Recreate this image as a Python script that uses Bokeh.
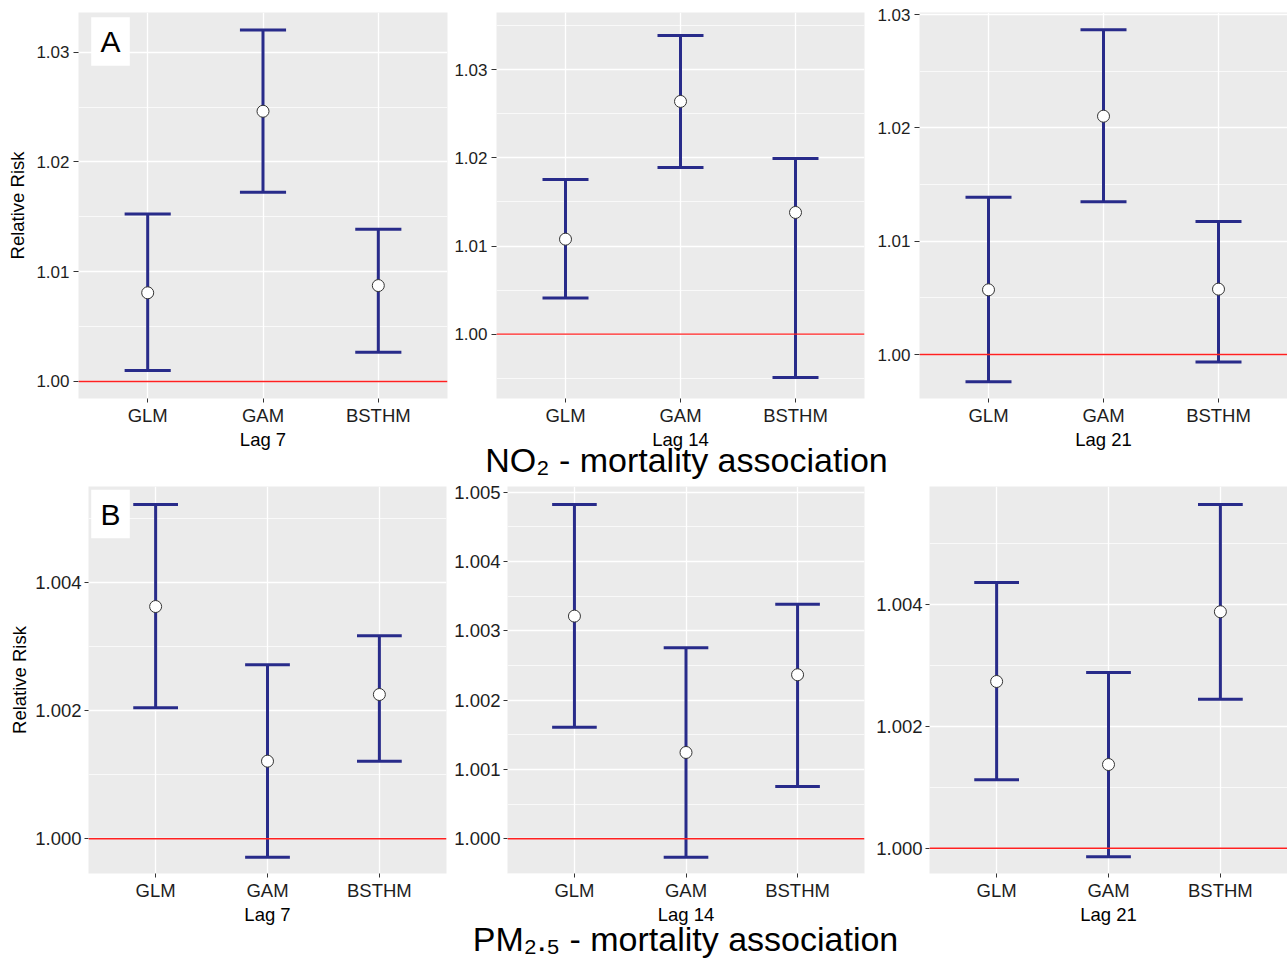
from bokeh.plotting import figure
from bokeh.layouts import column, row
from bokeh.models import Range1d, FixedTicker, PrintfTickFormatter, Span, ColumnDataSource
from bokeh.core.properties import value
from bokeh.embed import file_html
from bokeh.resources import INLINE

# ---------------- data ----------------
categories = ["GLM", "GAM", "BSTHM"]
lag_labels = ["Lag 7", "Lag 14", "Lag 21"]
panel_tags = ["A", "B"]
row_titles = ["NO\u2082 - mortality association", "PM\u2082.\u2085 - mortality association"]
reference_rr = 1.0

# NO2 - relative risk (estimate, lower, upper)
no2_lag7_est = [1.00808, 1.02462, 1.00874]
no2_lag7_lo = [1.00100, 1.01724, 1.00267]
no2_lag7_hi = [1.01527, 1.03203, 1.01387]

no2_lag14_est = [1.01078, 1.02641, 1.01381]
no2_lag14_lo = [1.00409, 1.01892, 0.99508]
no2_lag14_hi = [1.01756, 1.03390, 1.01994]

no2_lag21_est = [1.00571, 1.02103, 1.00577]
no2_lag21_lo = [0.99759, 1.01347, 0.99935]
no2_lag21_hi = [1.01388, 1.02866, 1.01174]

# PM2.5 - relative risk
pm_lag7_est = [1.003620, 1.001210, 1.002249]
pm_lag7_lo = [1.002041, 0.999713, 1.001210]
pm_lag7_hi = [1.005210, 1.002712, 1.003163]

pm_lag14_est = [1.003212, 1.001245, 1.002366]
pm_lag14_lo = [1.001610, 0.999734, 1.000755]
pm_lag14_hi = [1.004824, 1.002756, 1.003385]

pm_lag21_est = [1.002737, 1.001374, 1.003882]
pm_lag21_lo = [1.001123, 0.999859, 1.002447]
pm_lag21_hi = [1.004363, 1.002885, 1.005644]

# axis limits and ticks
no2_lag7_ylim = (0.99845, 1.03362)
no2_lag14_ylim = (0.99270, 1.03650)
no2_lag21_ylim = (0.99612, 1.03018)
pm_lag7_ylim = (0.999459, 1.005491)
pm_lag14_ylim = (0.999499, 1.005082)
pm_lag21_ylim = (0.999585, 1.005938)

no2_major_ticks = [1.00, 1.01, 1.02, 1.03]
no2_minor_ticks = [0.995, 1.005, 1.015, 1.025, 1.035]
pm_major_ticks_wide = [1.000, 1.002, 1.004]
pm_minor_ticks_wide = [0.999, 1.001, 1.003, 1.005]
pm_major_ticks_fine = [1.000, 1.001, 1.002, 1.003, 1.004, 1.005]
pm_minor_ticks_fine = [0.9995, 1.0005, 1.0015, 1.0025, 1.0035, 1.0045]

# ---------------- style ----------------
FONT = "Liberation Sans"
BLUE = "#282B8A"
PANEL_BG = "#EBEBEB"
TEXT = "#1E1E1E"
CAP = 0.2          # half width of error bar caps (x units)
XLIM = (0.4, 3.6)
PAGE_W = 1287


def make_panel(est, lo, hi, ylim, major, minor, fmt, g,
               tick_size, ylabel=None, ylabel_standoff=8, tag=None, tag_off=None):
    p = figure(frame_width=g["fw"], frame_height=g["fh"], title=None,
               min_border_left=g["l"], min_border_right=g["r"],
               min_border_top=g["t"], min_border_bottom=g["b"],
               x_range=Range1d(*XLIM), y_range=Range1d(*ylim),
               output_backend="svg", toolbar_location=None,
               background_fill_color=PANEL_BG, border_fill_color="white",
               outline_line_color=None)
    xs = list(range(1, len(categories) + 1))
    src = ColumnDataSource(dict(x=xs, est=est, lo=lo, hi=hi,
                                xl=[x - CAP for x in xs], xr=[x + CAP for x in xs]))

    # grids
    p.xgrid.ticker = FixedTicker(ticks=xs)
    p.xgrid.grid_line_color = "white"
    p.xgrid.grid_line_width = 1.3
    yt = FixedTicker(ticks=major, minor_ticks=minor)
    p.ygrid.ticker = yt
    p.ygrid.grid_line_color = "white"
    p.ygrid.grid_line_width = 1.3
    p.ygrid.minor_grid_line_color = "white"
    p.ygrid.minor_grid_line_width = 0.7

    # error bars
    p.segment(x0="x", y0="lo", x1="x", y1="hi", source=src, line_color=BLUE, line_width=3)
    p.segment(x0="xl", y0="hi", x1="xr", y1="hi", source=src, line_color=BLUE, line_width=3)
    p.segment(x0="xl", y0="lo", x1="xr", y1="lo", source=src, line_color=BLUE, line_width=3)
    p.add_layout(Span(location=reference_rr, dimension="width",
                      line_color="#FF2020", line_width=1.4))
    p.scatter("x", "est", source=src, size=12, fill_color="white",
              line_color="#333333", line_width=1)

    # axes
    p.xaxis.ticker = FixedTicker(ticks=xs)
    p.xaxis.major_label_overrides = {x: c for x, c in zip(xs, categories)}
    p.yaxis.ticker = yt
    p.yaxis.formatter = PrintfTickFormatter(format=fmt)
    p.yaxis.axis_label = ylabel

    for ax in p.axis:
        ax.axis_line_color = None
        ax.major_tick_line_color = "#333333"
        ax.major_tick_line_width = 1
        ax.major_tick_in = 0
        ax.minor_tick_line_color = None
        ax.major_label_text_font = FONT
        ax.major_label_text_color = TEXT
        ax.axis_label_text_font = FONT
        ax.axis_label_text_font_style = "normal"
        ax.axis_label_text_color = "black"
        ax.axis_label_text_font_size = "18.5px"
    p.xaxis.major_tick_out = 4
    p.xaxis.major_label_standoff = 2
    p.xaxis.major_label_text_font_size = "18.5px"
    p.yaxis.major_tick_out = g["yto"]
    p.yaxis.major_label_standoff = g["yls"]
    p.yaxis.major_label_text_font_size = tick_size
    p.yaxis.axis_label_standoff = ylabel_standoff

    if tag is not None:
        x0, x1 = XLIM
        y0, y1 = ylim
        cx = x0 + tag_off[0] / g["fw"] * (x1 - x0)
        cy = y1 - tag_off[1] / g["fh"] * (y1 - y0)
        p.rect(x=[cx], y=[cy], width=38.6, height=48.4, width_units="screen",
               height_units="screen", fill_color="white", line_color=None)
        p.text(x=[cx], y=[cy], text=[tag], text_font=value(FONT), text_font_size="30px",
               text_align="center", text_baseline="middle", text_color="black")
    return p


def strip_fig(h, lag_xs, lag_y, title, title_x, title_y):
    """Full-width strip holding the lag (x-axis) titles and the row title."""
    t = figure(frame_width=PAGE_W, frame_height=h, title=None, x_range=Range1d(0, PAGE_W),
               y_range=Range1d(0, h), min_border=0, min_border_left=0, min_border_right=0,
               min_border_top=0, min_border_bottom=0, x_axis_type=None, y_axis_type=None,
               outline_line_color=None, output_backend="svg", toolbar_location=None,
               background_fill_color="white", border_fill_color="white")
    t.text(x=lag_xs, y=[lag_y] * len(lag_xs), text=lag_labels, text_font=value(FONT),
           text_font_size="18.5px", text_align="center", text_baseline="middle",
           text_color="black")
    t.text(x=[title_x], y=[title_y], text=[title], text_font=value(FONT),
           text_font_size="34px", text_align="center", text_baseline="middle",
           text_color="black")
    return t


def frame_center(start, g):
    return start + g["l"] + g["fw"] / 2


gA1 = dict(l=78, fw=369, r=3, t=12, fh=386, b=30, yto=5, yls=4)
gA2 = dict(l=46, fw=368, r=3, t=12, fh=386, b=30, yto=5, yls=4)
gA3 = dict(l=52, fw=368, r=0, t=12, fh=386, b=30, yto=5, yls=4)
gB1 = dict(l=88, fw=358, r=4, t=4, fh=387, b=30, yto=4, yls=3)
gB2 = dict(l=57, fw=357, r=4, t=4, fh=387, b=30, yto=4, yls=3)
gB3 = dict(l=61, fw=358, r=0, t=4, fh=387, b=30, yto=4, yls=3)

a1 = make_panel(no2_lag7_est, no2_lag7_lo, no2_lag7_hi, no2_lag7_ylim, no2_major_ticks,
                no2_minor_ticks, "%.2f", gA1, "17px",
                ylabel="Relative Risk", ylabel_standoff=5, tag=panel_tags[0], tag_off=(32, 29))
a2 = make_panel(no2_lag14_est, no2_lag14_lo, no2_lag14_hi, no2_lag14_ylim, no2_major_ticks,
                no2_minor_ticks, "%.2f", gA2, "17px")
a3 = make_panel(no2_lag21_est, no2_lag21_lo, no2_lag21_hi, no2_lag21_ylim, no2_major_ticks,
                no2_minor_ticks, "%.2f", gA3, "17px")

b1 = make_panel(pm_lag7_est, pm_lag7_lo, pm_lag7_hi, pm_lag7_ylim, pm_major_ticks_wide,
                pm_minor_ticks_wide, "%.3f", gB1, "18.5px",
                ylabel="Relative Risk", ylabel_standoff=2, tag=panel_tags[1], tag_off=(22, 27.5))
b2 = make_panel(pm_lag14_est, pm_lag14_lo, pm_lag14_hi, pm_lag14_ylim, pm_major_ticks_fine,
                pm_minor_ticks_fine, "%.3f", gB2, "18.5px")
b3 = make_panel(pm_lag21_est, pm_lag21_lo, pm_lag21_hi, pm_lag21_ylim, pm_major_ticks_wide,
                pm_minor_ticks_wide, "%.3f", gB3, "18.5px")


def row_starts(gs):
    out, s = [], 0
    for g in gs:
        out.append(s)
        s += g["l"] + g["fw"] + g["r"]
    return out


top_gs = [gA1, gA2, gA3]
bot_gs = [gB1, gB2, gB3]
top_cx = [frame_center(s, g) for s, g in zip(row_starts(top_gs), top_gs)]
bot_cx = [frame_center(s, g) for s, g in zip(row_starts(bot_gs), bot_gs)]

# strip 1 spans page y 428..482 ; strip 2 spans 903..958 (text centres measured from strip bottom)
s1 = strip_fig(54, top_cx, 43.5, row_titles[0], 686, 22.8)
s2 = strip_fig(55, bot_cx, 44.5, row_titles[1], 685, 19.5)

layout = column(row(a1, a2, a3, spacing=0), s1, row(b1, b2, b3, spacing=0), s2, spacing=0)

with open("out.html", "w") as f:
    f.write(file_html(layout, INLINE))
